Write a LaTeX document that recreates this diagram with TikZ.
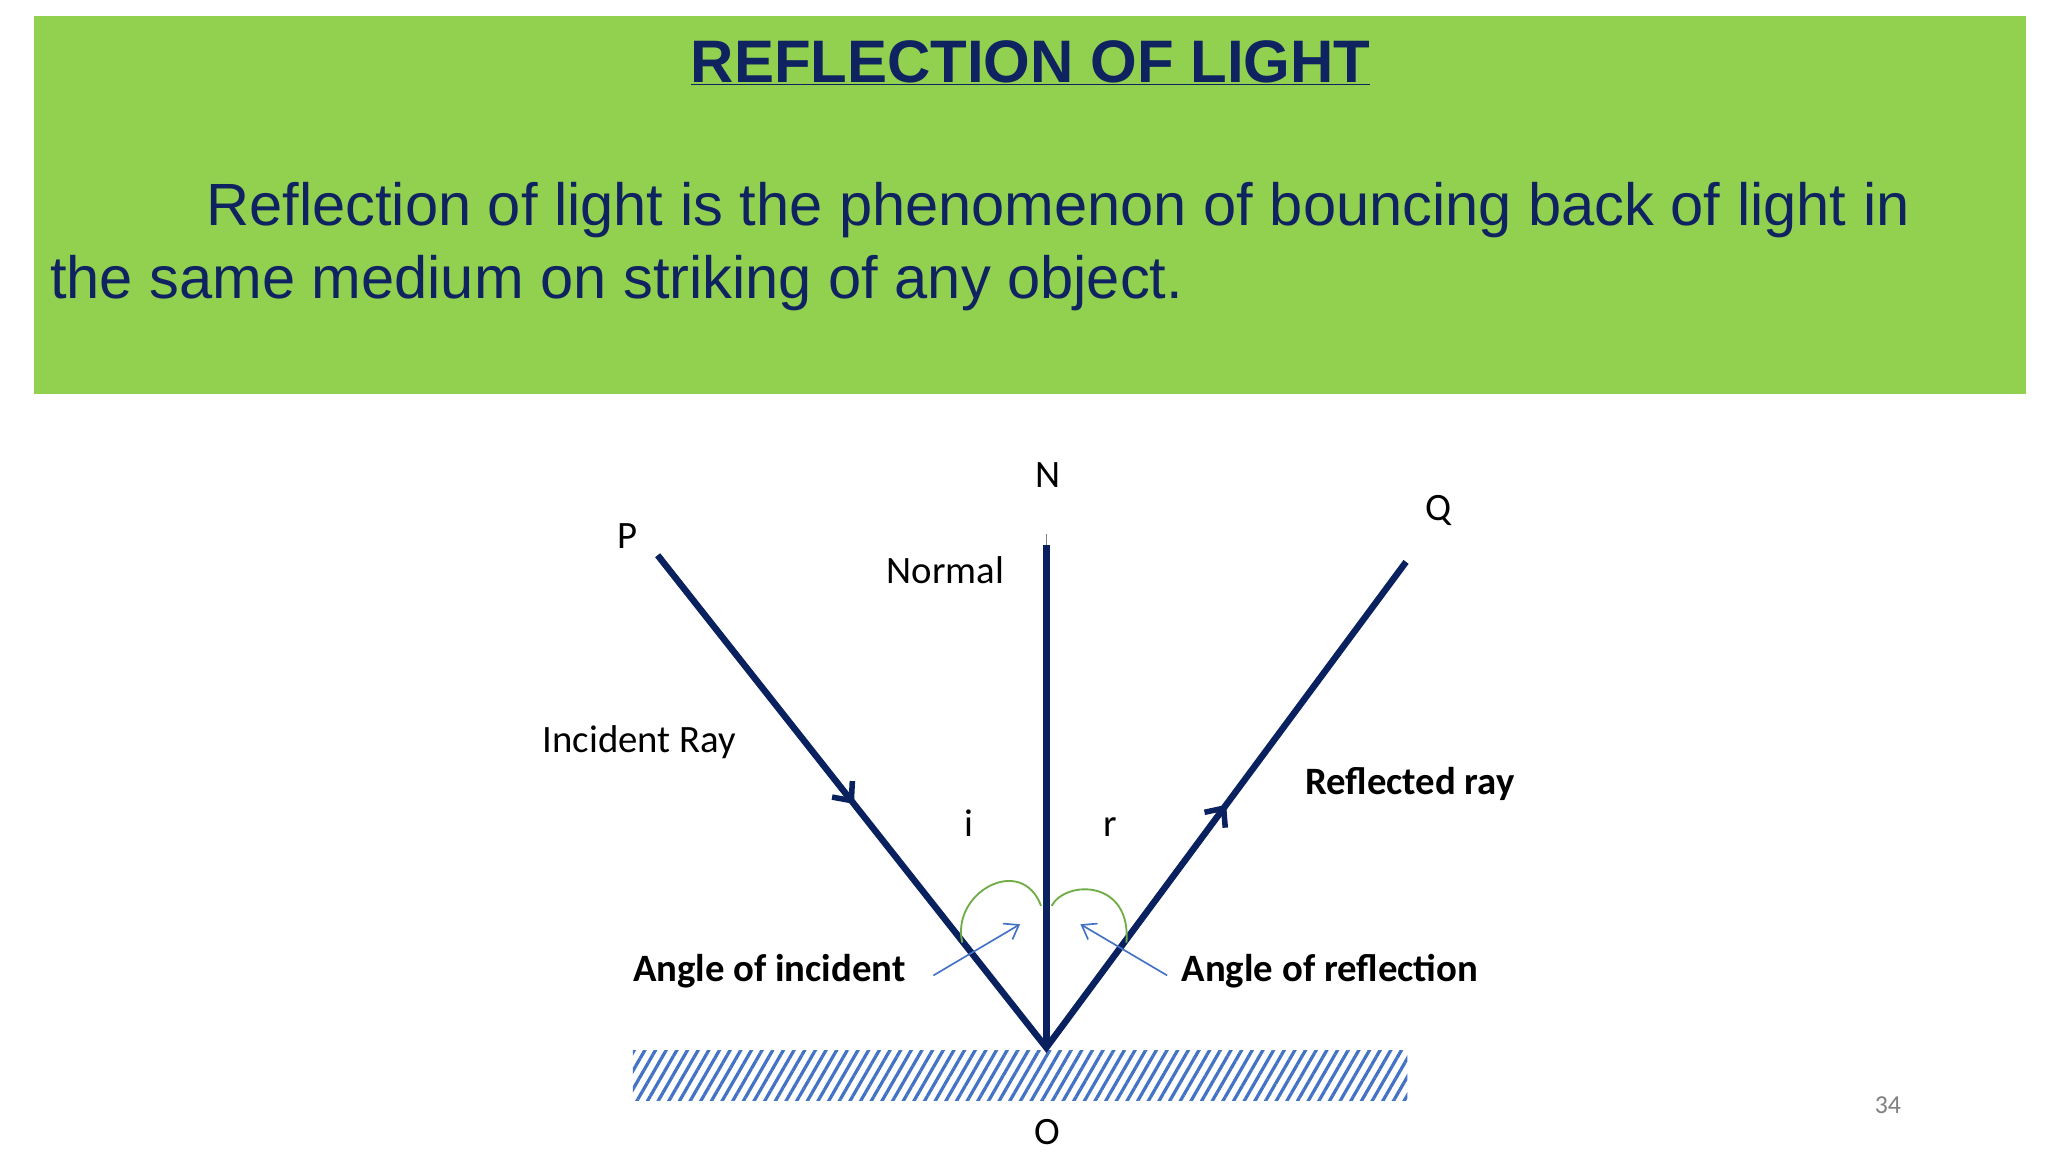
\documentclass[tikz,border=0pt]{standalone}
\usepackage{fontspec}
\setmainfont{Carlito}
\newfontfamily\arialf{Liberation Sans}
\usetikzlibrary{arrows.meta,patterns.meta,calc}
\definecolor{grn}{HTML}{92D050}
\definecolor{navy}{HTML}{0F2360}
\definecolor{ray}{HTML}{0A2160}
\definecolor{lblue}{HTML}{4472C4}
\definecolor{agreen}{HTML}{70AD47}
\begin{document}
\begin{tikzpicture}[x=0.5mm,y=-0.5mm,
  lbl/.style={font=\fontsize{42}{46}\selectfont,text=black,inner sep=0},
  raystyle/.style={draw=ray,line width=7pt},
  thin/.style={draw=lblue,line width=1.8pt,-{Straight Barb[length=14pt,width=20pt]}}]
\useasboundingbox (0,0) rectangle (1560,877.5);
\fill[white] (0,0) rectangle (1560,877.5);
\fill[grn] (26,12) rectangle (1543,300);
\node[font=\arialf\bfseries\fontsize{65}{70}\selectfont,text=navy,inner sep=0,anchor=base] (title) at (785,63) {\underline{REFLECTION OF LIGHT}};
\node[font=\arialf\fontsize{64.6}{66}\selectfont,text=navy,inner sep=0,anchor=base west] (l1) at (157,172) {Reflection of light is the phenomenon of bouncing back of light in};
\node[font=\arialf\fontsize{64.6}{66}\selectfont,text=navy,inner sep=0,anchor=base west] (l2) at (38,227) {the same medium on striking of any object.};
% geometry
\coordinate (O) at (797,798);
\coordinate (Ntop) at (797,415);
\coordinate (Pend) at (501,423);
\coordinate (Qend) at (1071,428);
\fill[pattern={Lines[angle=60,distance=10pt,line width=3.5pt]},pattern color=lblue] (482,800) rectangle (1072,838);
\draw[gray,line width=1.5pt] (797,407) -- (Ntop);
\draw[raystyle] (Ntop) -- (O);
\draw[raystyle,line join=miter] (Pend) -- (O) -- (Qend);
\draw[draw=ray,line width=6pt,-{Straight Barb[length=16pt,width=28pt]}] (Pend) -- ($(Pend)!0.505!(O)$);
\draw[draw=ray,line width=6pt,-{Straight Barb[length=16pt,width=28pt]}] (O) -- ($(O)!0.5!(Qend)$);
% arcs
\draw[agreen,line width=2pt] (733,718) .. controls (724,680) and (778,650) .. (793,690);
\draw[agreen,line width=2pt] (801,690) .. controls (812,670) and (862,670) .. (858,718);
\coordinate (ai) at (711,743); \coordinate (ai2) at (777,704);
\coordinate (ar) at (889,743); \coordinate (ar2) at (823,704);
\draw[thin] (ai) -- (ai2);
\draw[thin] (ar) -- (ar2);
% labels
\node[lbl] (N) at (798,362) {N};
\node[lbl] (P) at (478,408) {P};
\node[lbl] (Q) at (1096,389) {Q};
\node[lbl] (Nl) at (720,434) {Normal};
\node[lbl] (IR) at (487,565) {Incident Ray};
\node[lbl,font=\bfseries\fontsize{42}{46}\selectfont] (RR) at (1074,597) {Reflected ray};
\node[lbl] (i) at (738,627) {i};
\node[lbl] (r) at (846,630) {r};
\node[lbl,font=\bfseries\fontsize{42}{46}\selectfont] (AI) at (586,740) {Angle of incident};
\node[lbl,font=\bfseries\fontsize{42}{46}\selectfont] (AR) at (1013,740) {Angle of reflection};
\node[lbl] (Ol) at (798,862) {O};
\node[lbl,text=gray,font=\fontsize{28}{30}\selectfont] (pg) at (1438,842) {34};
\end{tikzpicture}
\end{document}
